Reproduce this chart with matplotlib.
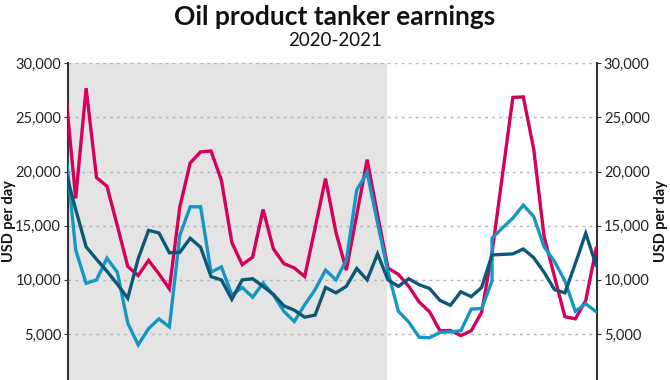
import matplotlib.pyplot as plt
import numpy as np

plt.rcParams['font.family'] = ['Lato', 'DejaVu Sans']

# sample index (roughly every ~10 days), 2020 runs up to about 30.9
weeks = np.arange(52)
split_2020 = 30.87

crimson = [27600, 17530, 27700, 19450, 18650, 15000, 11240, 10400, 11800, 10550,
           9170, 16730, 20800, 21820, 21900, 19200, 13450, 11400, 12100, 16500,
           12850, 11500, 11100, 10300, 14800, 19350, 14400, 10900, 16000, 21100,
           16000, 11100, 10500, 9400, 7950, 7050, 5300, 5330, 4850, 5300,
           7000, 12500, 19700, 26850, 26900, 22100, 14000, 10300, 6600, 6400,
           8100, 12900]

light_blue_weeks = list(range(42)) + [41] + list(range(42, 52))
light_blue = [22300, 12760, 9680, 10000, 12000, 10700, 6000, 4000, 5500, 6400,
              5650, 14100, 16750, 16750, 10700, 11200, 8600, 9300, 8400, 9700,
              8600, 7100, 6150, 7700, 9100, 10900, 10000, 11800, 18300, 19900,
              15250, 10750, 7100, 6100, 4700, 4650, 5150, 5200, 5300, 7300,
              7350, 9900, 13850, 14800, 15700, 16900, 15850, 13050, 11700, 9900,
              7100, 7800, 7050]

teal = [20100, 16500, 13050, 11900, 10800, 9600, 8300, 11950, 14570, 14330,
        12500, 12540, 13840, 13010, 10300, 9990, 8200, 10000, 10100, 9400,
        8650, 7600, 7200, 6550, 6750, 9300, 8800, 9400, 11050, 10000,
        12400, 10000, 9400, 10100, 9550, 9200, 8100, 7650, 8900, 8450,
        9300, 12300, 12350, 12400, 12850, 12050, 10700, 9100, 8800, 11500,
        14300, 11350]

yticks = [5000, 10000, 15000, 20000, 25000, 30000]

fig = plt.figure(figsize=(6.7, 3.8), dpi=100)
ax = fig.add_axes([0.1015, 0.0, 0.7895, 0.8334])

ax.axvspan(0.26, split_2020, color='#e4e4e4', zorder=0, lw=0)

ax.plot(weeks, crimson, color='#d4005a', lw=2.4, solid_joinstyle='miter', zorder=3)
ax.plot(light_blue_weeks, light_blue, color='#1597c3', lw=2.4, solid_joinstyle='miter', zorder=4)
ax.plot(weeks, teal, color='#0d5878', lw=2.4, solid_joinstyle='miter', zorder=5)

ax.set_xlim(0.26, 51.08)
ax.set_ylim(751, 30000)
ax.set_yticks(yticks)
ax.set_yticklabels([f"{v:,}" for v in yticks])
ax.set_xticks([])
ax.yaxis.grid(True, linestyle=(0, (2, 3)), color='#b5b5b5', lw=1)
ax.set_axisbelow(True)

for s in ['top', 'bottom']:
    ax.spines[s].set_visible(False)
for s in ['left', 'right']:
    ax.spines[s].set_color('#333333')
    ax.spines[s].set_linewidth(1.5)

ax.tick_params(axis='y', labelsize=10.5, length=3, color='#333333', labelcolor='#222222',
               left=True, right=True, labelleft=True, labelright=True, pad=2)

fig.text(9 / 670, 1 - 221 / 380, "USD per day", rotation=90, ha='center', va='center',
         fontsize=10.5, fontweight='bold', color='#111111')
fig.text(661 / 670, 1 - 221 / 380, "USD per day", rotation=90, ha='center', va='center',
         fontsize=10.5, fontweight='bold', color='#111111')

fig.text(0.5, 1 - 17 / 380, "Oil product tanker earnings", ha='center', va='center',
         fontsize=19, fontweight='bold', color='#111111')
fig.text(0.5, 1 - 41 / 380, "2020-2021", ha='center', va='center', fontsize=13.5, color='#111111')

fig.savefig("out.png", dpi=100)
